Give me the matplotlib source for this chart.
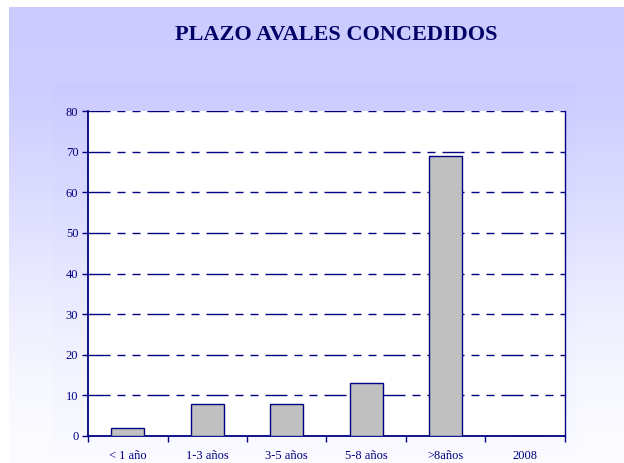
import matplotlib
matplotlib.use("Agg")
import matplotlib.pyplot as plt
import numpy as np

categories = ["< 1 año", "1-3 años", "3-5 años", "5-8 años", ">8años", "2008"]
values = [2, 8, 8, 13, 69, 0]
yticks = [0, 10, 20, 30, 40, 50, 60, 70, 80]
title = "PLAZO AVALES CONCEDIDOS"

navy = "#000080"
plt.rcParams['font.family'] = ['Liberation Serif', 'DejaVu Serif']

W, H = 624, 463
fig = plt.figure(figsize=(W / 100, H / 100), dpi=100)
fig.patch.set_facecolor("white")

# background gradient (pixel coordinates)
bg = fig.add_axes([0, 0, 1, 1], zorder=-10)
bg.set_xlim(0, W)
bg.set_ylim(H, 0)
bg.axis("off")
ys = np.arange(H)
rg = np.interp(ys, [7, 90, 200, 300, 380, 463], [203, 205, 221, 237, 247, 252])
img = np.ones((H, W, 3))
img[:, :, 0] = rg[:, None] / 255
img[:, :, 1] = rg[:, None] / 255
# chart panel slightly darker
panel = np.zeros((H, W), bool)
panel[85:456, 54:577] = True
img[:, :, 0] = np.where(panel, img[:, :, 0] - 2 / 255, img[:, :, 0])
img[:, :, 1] = np.where(panel, img[:, :, 1] - 2 / 255, img[:, :, 1])
img[:7, :, :] = 1
img[:, :9, :] = 1
bg.imshow(np.clip(img, 0, 1), extent=(0, W, H, 0), aspect="auto", interpolation="nearest")

left, right, top, bottom = 88, 565, 111, 436
ax = fig.add_axes([left / W, 1 - bottom / H, (right - left) / W, (bottom - top) / H])
ax.set_facecolor("white")

x = np.arange(len(categories))
ax.bar(x, values, width=0.42, color="#C0C0C0", edgecolor=navy, linewidth=1.0, zorder=3)

ax.set_xlim(-0.5, len(categories) - 0.5)
ax.set_ylim(0, 80)
ax.set_yticks(yticks)
ax.set_yticklabels([str(v) for v in yticks], color=navy, fontsize=9)

ax.set_xticks(x)
ax.set_xticklabels(categories, color=navy, fontsize=9)
ax.tick_params(axis="x", length=0, pad=10)
ax.set_xticks(np.arange(len(categories) + 1) - 0.5, minor=True)
ax.tick_params(axis="x", which="minor", length=4, direction="out", color=navy, width=1)
ax.tick_params(axis="y", length=4, direction="out", color=navy, width=1, pad=3)

dash = (0, (22 * 0.72, 7 * 0.72, 8 * 0.72, 7 * 0.72, 8 * 0.72, 7 * 0.72))
for v in yticks[1:]:
    ax.axhline(v, color=navy, linewidth=1.0, linestyle=dash, zorder=1)

for s in ["left", "bottom"]:
    ax.spines[s].set_color(navy)
    ax.spines[s].set_linewidth(1.3)
ax.spines["right"].set_color(navy)
ax.spines["right"].set_linewidth(1.0)
ax.spines["top"].set_visible(False)

fig.text(336 / W, 1 - 35.5 / H, title, ha="center", va="center", fontsize=16,
         fontweight="bold", color="#000066")

fig.savefig("out.png", dpi=100)
